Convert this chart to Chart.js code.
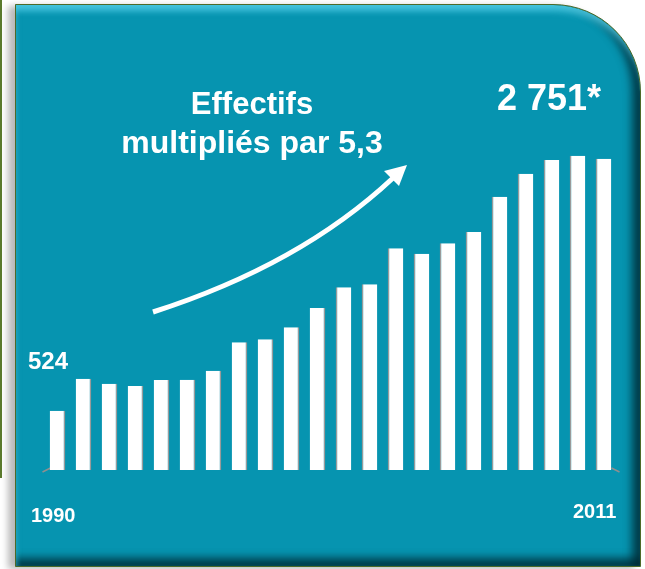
<!DOCTYPE html>
<html>
<head>
<meta charset="utf-8">
<script src="https://cdn.jsdelivr.net/npm/chart.js@4.4.1/dist/chart.umd.min.js"></script>
<style>
  html, body { margin: 0; padding: 0; background: #ffffff; }
  #wrap { position: relative; width: 645px; height: 569px; overflow: hidden; font-family: 'Liberation Sans', Arial, sans-serif; }
  #edge { position: absolute; left: 0; top: 0; width: 2px; height: 478px; background: #5b7a2e; }
  #panel {
    position: absolute; left: 15px; top: 4px; width: 624px; height: 561px;
    background: #0694b0;
    border: 1px solid #4d6a28;
    border-top-right-radius: 88px;
    box-shadow:
      -7px 2px 7px rgba(0, 0, 0, 0.28),
      inset 0 11px 6px -5px rgba(80, 205, 230, 0.85),
      inset 4px 0 4px -2px rgba(60, 190, 215, 0.5),
      inset -13px 0 8px -5px rgba(0, 40, 50, 0.8),
      inset 0 -13px 8px -5px rgba(0, 40, 50, 0.8);
  }
  canvas { position: absolute; left: 0; top: 0; }
  .lbl { position: absolute; color: #ffffff; font-weight: bold; white-space: nowrap; line-height: 1; }
</style>
</head>
<body>
<div id="wrap">
  <div id="edge"></div>
  <div id="panel"></div>
  <canvas id="chart" width="645" height="569"></canvas>
  <div class="lbl" id="title1" style="left:0; width:504px; text-align:center; top:88px; font-size:31px;">Effectifs</div>
  <div class="lbl" id="title2" style="left:0; width:504px; text-align:center; top:126px; font-size:32px;">multipliés par 5,3</div>
  <div class="lbl" id="lastVal" style="left:497px; top:80px; font-size:36px;"></div>
  <div class="lbl" id="firstVal" style="left:28px; top:349px; font-size:24px;"></div>
  <div class="lbl" id="firstYear" style="left:31px; top:505px; font-size:20px;"></div>
  <div class="lbl" id="lastYear" style="left:573px; top:501px; font-size:20px;"></div>
</div>
<script>
// Effectifs 1990 - 2011
const years = ['1990', '1991', '1992', '1993', '1994', '1995', '1996', '1997', '1998', '1999', '2000',
               '2001', '2002', '2003', '2004', '2005', '2006', '2007', '2008', '2009', '2010', '2011'];
const effectifs = [524, 807, 763, 743, 796, 798, 878, 1129, 1155, 1261, 1432,
                   1615, 1642, 1960, 1912, 2004, 2104, 2416, 2619, 2740, 2778, 2751];
const yMax = 3000;

// labels taken from the data
const fmt = v => String(v).replace(/\B(?=(\d{3})+(?!\d))/g, ' ');
document.getElementById('firstVal').textContent = fmt(effectifs[0]);
document.getElementById('lastVal').textContent = fmt(effectifs[effectifs.length - 1]) + '*';
document.getElementById('firstYear').textContent = years[0];
document.getElementById('lastYear').textContent = years[years.length - 1];

// curved growth arrow + floor line
const decorPlugin = {
  id: 'decor',
  beforeDatasetsDraw(chart) {
    const c = chart.ctx;
    const area = chart.chartArea;
    c.save();
    c.strokeStyle = '#8f8f8f';
    c.lineWidth = 1.5;
    c.beginPath();
    c.moveTo(area.left - 2, area.bottom + 2);
    c.lineTo(area.left + 6, area.bottom - 2);
    c.moveTo(area.right - 5, area.bottom - 2);
    c.lineTo(area.right + 3, area.bottom + 2);
    c.stroke();
    c.restore();
  },
  afterDraw(chart) {
    const c = chart.ctx;
    c.save();
    c.strokeStyle = '#ffffff';
    c.fillStyle = '#ffffff';
    c.lineWidth = 5;
    c.beginPath();
    c.moveTo(153, 312);
    c.quadraticCurveTo(300, 265, 393, 178);
    c.stroke();
    c.beginPath();
    c.moveTo(407, 165);
    c.lineTo(384, 171);
    c.lineTo(399, 186);
    c.closePath();
    c.fill();
    c.restore();
  }
};

const ctx = document.getElementById('chart').getContext('2d');
new Chart(ctx, {
  type: 'bar',
  data: {
    labels: years,
    datasets: [{
      data: effectifs,
      backgroundColor: '#ffffff',
      borderColor: '#9a9a9a',
      borderWidth: c => c.dataIndex < 11 ? { top: 0, right: 1.5, bottom: 0, left: 0 } : { top: 0, right: 0, bottom: 0, left: 1.5 },
      borderSkipped: false,
      categoryPercentage: 1,
      barPercentage: 0.6
    }]
  },
  options: {
    responsive: false,
    animation: false,
    layout: { padding: { left: 44.5, right: 28.5, top: 130.6, bottom: 99 } },
    scales: {
      x: { display: false, offset: true },
      y: { display: false, min: 0, max: yMax }
    },
    plugins: {
      legend: { display: false },
      tooltip: { enabled: false }
    }
  },
  plugins: [decorPlugin]
});
</script>
</body>
</html>
